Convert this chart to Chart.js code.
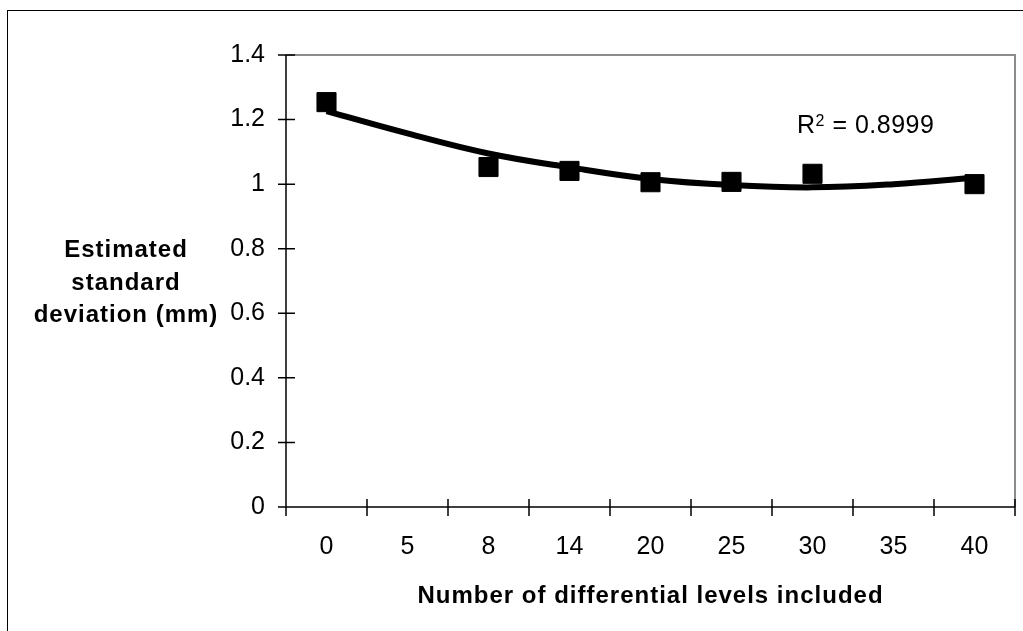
<!DOCTYPE html>
<html>
<head>
<meta charset="utf-8">
<script src="https://cdn.jsdelivr.net/npm/chart.js@4.4.1/dist/chart.umd.min.js"></script>
<style>
  html, body { margin: 0; padding: 0; background: #fff; overflow: hidden; }
  #wrap { position: relative; width: 1023px; height: 631px; overflow: hidden; }
  #frame { position: absolute; left: 7px; top: 10px; width: 1100px; height: 700px; border: 1px solid #000; box-sizing: border-box; }
  canvas { position: absolute; left: 0; top: 0; }
</style>
</head>
<body>
<div id="wrap">
  <div id="frame"></div>
  <canvas id="sdChart" width="1023" height="631"></canvas>
</div>
<script>
// Chart data
const levelLabels = ['0', '5', '8', '14', '20', '25', '30', '35', '40'];
const measuredSd = [1.254, null, 1.053, 1.041, 1.006, 1.007, 1.032, null, 1.000];
// polynomial trend line, read at each category
const trendSd = [1.226, 1.157, 1.095, 1.052, 1.016, 0.997, 0.990, 1.000, 1.020];
const yAxisTitle = ['Estimated', 'standard', 'deviation (mm)'];
const xAxisTitle = 'Number of differential levels included';
const fitText = ['R', '2', ' = 0.8999'];

const FONT = '"Liberation Sans", Arial, Helvetica, sans-serif';

// draws plot border, axis lines, crossing tick marks and the text labels
const axisDecor = {
    id: 'axisDecor',
    beforeDatasetsDraw(chart) {
        const { ctx, chartArea: a } = chart;
        ctx.save();
        ctx.strokeStyle = '#8c8c8c';
        ctx.lineWidth = 2;
        ctx.beginPath();
        ctx.moveTo(a.left, a.top);
        ctx.lineTo(a.right, a.top);
        ctx.lineTo(a.right, a.bottom);
        ctx.stroke();
        ctx.restore();
    },
    afterDraw(chart) {
        const { ctx, chartArea: a } = chart;
        const xs = chart.scales.x, ys = chart.scales.y;
        ctx.save();
        ctx.strokeStyle = '#000';
        ctx.lineWidth = 1.5;
        ctx.beginPath();
        ctx.moveTo(a.left, a.top);
        ctx.lineTo(a.left, a.bottom);
        ctx.lineTo(a.right, a.bottom);
        // y tick marks
        ys.ticks.forEach(t => {
            const py = ys.getPixelForValue(t.value);
            ctx.moveTo(a.left - 8, py);
            ctx.lineTo(a.left + 9, py);
        });
        // x tick marks sit between categories
        for (let i = 0; i <= levelLabels.length; i++) {
            const px = xs.getPixelForValue(i - 0.5);
            ctx.moveTo(px, a.bottom - 8);
            ctx.lineTo(px, a.bottom + 9);
        }
        ctx.stroke();

        ctx.fillStyle = '#000';
        ctx.letterSpacing = '1px';
        ctx.font = 'bold 24px ' + FONT;
        ctx.textAlign = 'center';
        ctx.textBaseline = 'alphabetic';
        // y axis title, horizontal, three lines
        const midY = ys.getPixelForValue(0.7) + 8.6;
        yAxisTitle.forEach((line, i) => {
            ctx.fillText(line, 126, midY + (i - 1) * 32.4);
        });
        // x axis title
        ctx.fillText(xAxisTitle, (a.left + a.right) / 2, a.bottom + 96);

        // R squared label
        ctx.letterSpacing = '0.5px';
        ctx.textAlign = 'left';
        let tx = a.left + 511;
        const ty = a.top + 78;
        ctx.font = '25px ' + FONT;
        ctx.fillText(fitText[0], tx, ty);
        tx += ctx.measureText(fitText[0]).width;
        ctx.font = '16px ' + FONT;
        ctx.fillText(fitText[1], tx, ty - 7);
        tx += ctx.measureText(fitText[1]).width;
        ctx.font = '25px ' + FONT;
        ctx.fillText(fitText[2], tx, ty);
        ctx.restore();
    }
};

new Chart(document.getElementById('sdChart'), {
    type: 'line',
    data: {
        labels: levelLabels,
        datasets: [{
            label: 'Trend',
            data: trendSd,
            borderColor: '#000',
            borderWidth: 6,
            pointRadius: 0,
            tension: 0.4,
            fill: false
        }, {
            label: 'Estimated SD',
            data: measuredSd,
            showLine: false,
            pointStyle: 'rect',
            pointRadius: 13.5,
            pointBorderWidth: 1,
            pointBackgroundColor: '#000',
            pointBorderColor: '#000'
        }]
    },
    plugins: [axisDecor],
    options: {
        responsive: false,
        animation: false,
        layout: { autoPadding: false, padding: { top: 55, right: 8, left: 0, bottom: 0 } },
        plugins: {
            legend: { display: false },
            tooltip: { enabled: false }
        },
        scales: {
            x: {
                type: 'category',
                offset: true,
                grid: { display: false, drawTicks: false },
                border: { display: false },
                ticks: {
                    color: '#000',
                    font: { family: FONT, size: 25 },
                    padding: 25,
                    maxRotation: 0,
                    autoSkip: false
                },
                afterFit(scale) { scale.height = 124; }
            },
            y: {
                min: 0,
                max: 1.4,
                grid: { display: false, drawTicks: false },
                border: { display: false },
                ticks: {
                    stepSize: 0.2,
                    color: '#000',
                    font: { family: FONT, size: 25 },
                    padding: 21,
                    callback: v => String(Number(v.toFixed(1)))
                },
                afterFit(scale) { scale.width = 286; }
            }
        }
    }
});
</script>
</body>
</html>
